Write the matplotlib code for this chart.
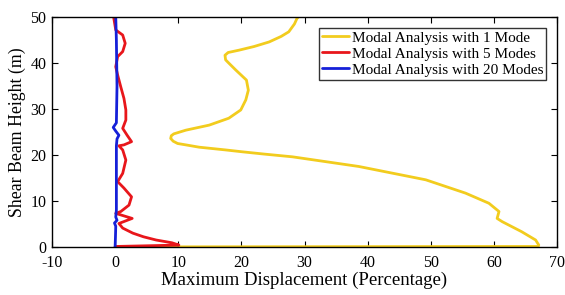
import numpy as np
import matplotlib
matplotlib.use("Agg")
import matplotlib.pyplot as plt

# 1 mode
h1 = [0, 0.1, 0.4, 1.5, 3.3, 5.5, 6.2, 7.7, 9.5, 11.7, 14.6, 17.5, 19.6, 20.2, 20.7, 21.1, 21.7,
      22.2, 22.5, 23.0, 23.6, 24.2, 24.6, 25.4, 26.5, 28.0, 29.8, 32.0, 34.1, 36.3, 38.5, 40.0,
      40.7, 41.7, 42.3, 42.8, 43.6, 44.6, 45.8, 46.8, 48.5, 49.7, 50]
d1 = [0, 67.0, 67.1, 66.6, 64.4, 61.3, 60.5, 60.8, 59.2, 55.5, 49.2, 38.6, 28.1, 23.6, 20.1,
      17.5, 13.3, 11.2, 9.9, 9.2, 8.8, 8.9, 9.3, 11.2, 14.9, 18.0, 19.9, 20.7, 21.1, 20.8, 19.1,
      18.0, 17.5, 17.4, 17.9, 19.6, 22.0, 24.4, 26.3, 27.5, 28.4, 28.8, 29.0]

# 5 modes
h5 = [0, 0.1, 0.4, 0.9, 1.5, 2.2, 3.0, 4.1, 5.1, 6.2, 7.3, 7.7, 9.1, 10.9, 12.8, 14.2, 16.0,
      18.9, 21.1, 22.0, 22.2, 22.9, 24.3, 25.8, 27.6, 29.8, 32.3, 34.8, 37.4, 39.2, 41.4, 42.5,
      44.3, 46.1, 47.2, 49.7, 50]
d5 = [0, 0.2, 10.1, 9.0, 6.5, 4.5, 2.8, 1.2, 0.6, 2.7, 0.1, 0.9, 2.2, 2.6, 1.4, 0.4, 1.2,
      1.7, 1.2, 0.6, 1.4, 2.6, 1.9, 1.2, 1.7, 1.7, 1.4, 0.9, 0.4, 0.1, 0.4, 1.2,
      1.6, 1.2, 0.1, -0.2, -0.2]

# 20 modes
h20 = [0, 2, 4.5, 5.2, 5.8, 6.5, 8, 15, 22, 23.5, 24.3, 25.2, 26, 27, 35, 45, 50]
d20 = [0, 0.05, 0.1, -0.1, 0.3, 0.1, 0.2, 0.2, 0.2, 0.3, 0.6, 0.1, -0.3, 0.2, 0.3, 0.2, 0.1]

plt.rcParams['font.family'] = 'Liberation Serif'
plt.rcParams['axes.unicode_minus'] = False

fig = plt.figure(figsize=(5.65, 2.95), dpi=100)
ax = fig.add_axes([0.092, 0.163, 0.894, 0.779])

kw = dict(lw=2, solid_joinstyle='round', solid_capstyle='round')
ax.plot(d1, h1, color='#F2CC1E', label='Modal Analysis with 1 Mode', **kw)
ax.plot(d5, h5, color='#E8161B', label='Modal Analysis with 5 Modes', **kw)
ax.plot(d20, h20, color='#1520D8', label='Modal Analysis with 20 Modes', **kw)

ax.set_xlim(-10, 70)
ax.set_ylim(0, 50)
ax.set_xticks(range(-10, 71, 10))
ax.set_yticks(range(0, 51, 10))
ax.tick_params(direction='in', top=True, right=True, length=4, labelsize=11.5)
ax.tick_params(axis='x', pad=6)
ax.tick_params(axis='y', pad=4)
ax.set_xlabel('Maximum Displacement (Percentage)', fontsize=13.5, labelpad=0)
ax.set_ylabel('Shear Beam Height (m)', fontsize=12.8, labelpad=3)
for s in ax.spines.values():
    s.set_linewidth(1)

leg = ax.legend(loc='upper right', fontsize=11, frameon=True, fancybox=False,
                edgecolor='black', borderpad=0.2, labelspacing=0.15,
                handlelength=1.75, handletextpad=0.2, borderaxespad=0.7)
leg.get_frame().set_linewidth(1)

fig.savefig('out.png', dpi=100)
